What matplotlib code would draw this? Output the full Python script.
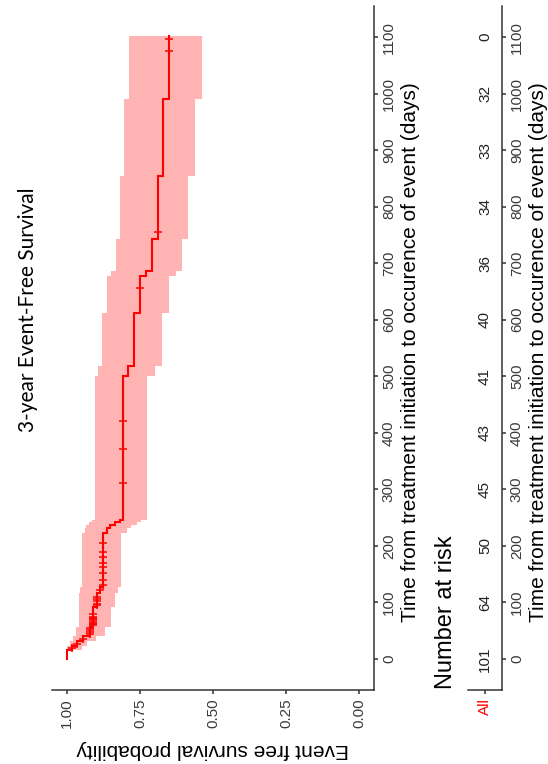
import numpy as np
import matplotlib
matplotlib.use("Agg")
import matplotlib.pyplot as plt

plt.rcParams['font.family'] = ['Liberation Sans', 'DejaVu Sans']

# Kaplan-Meier steps (time in days)
times = [0, 16, 22, 31, 40, 57, 92, 117, 128, 223, 232, 237, 242, 245,
         500, 518, 612, 677, 686, 742, 854, 990]
surv = [1.0, 0.984, 0.967, 0.944, 0.921, 0.910, 0.898, 0.887, 0.878, 0.864,
        0.853, 0.836, 0.818, 0.809, 0.790, 0.771, 0.750, 0.729, 0.709, 0.689,
        0.670, 0.650]
lower = [1.0, 0.95, 0.93, 0.90, 0.87, 0.85, 0.835, 0.825, 0.815, 0.795,
         0.78, 0.76, 0.745, 0.725, 0.699, 0.676, 0.650, 0.628, 0.607, 0.585,
         0.562, 0.539]
upper = [1.0, 1.0, 0.99, 0.98, 0.97, 0.96, 0.96, 0.955, 0.95, 0.94,
         0.935, 0.925, 0.915, 0.904, 0.893, 0.879, 0.864, 0.849, 0.832, 0.818,
         0.804, 0.787]
end_time = 1102
censor_times = [20, 27, 35, 44, 48, 51, 54, 60, 62, 64, 66, 68, 70, 72, 74,
                80, 95, 98, 102, 106, 110, 122, 131, 140, 152, 162, 170, 180,
                190, 205, 312, 372, 420, 657, 756, 1075, 1096]

risk_times = [0, 100, 200, 300, 400, 500, 600, 700, 800, 900, 1000, 1100]
at_risk = [101, 64, 50, 45, 43, 41, 40, 36, 34, 33, 32, 0]

prob_ticks = [1.0, 0.75, 0.5, 0.25, 0.0]
prob_labels = ['1.00', '0.75', '0.50', '0.25', '0.00']

W, H = 548, 764
fig = plt.figure(figsize=(W / 100, H / 100), dpi=100)

def box(x0, y0, x1, y1):
    # pixel box (from top-left) -> figure fraction rect
    return [x0 / W, 1 - y1 / H, (x1 - x0) / W, (y1 - y0) / H]

red = '#ff0000'
band = '#ffb3b3'
dark = '#333333'
xlab = 'Time from treatment initiation to occurence of event (days)'

# main plot: probability runs horizontally (reversed), time runs upward
ax = fig.add_axes(box(52.4, 6, 373.6, 690))
ax.set_xlim(1.05, -0.05)
ax.set_ylim(-55, 1155)

t_all = np.append(times, end_time)
ax.fill_betweenx(t_all, np.append(lower, lower[-1]), np.append(upper, upper[-1]),
                 step='post', color=band, lw=0)

ty = np.repeat(t_all, 2)[1:-1]
sx = np.repeat(surv, 2)
ax.plot(sx, ty, color=red, lw=1.5, solid_joinstyle='miter')

idx = np.searchsorted(times, censor_times, side='right') - 1
ax.plot(np.array(surv)[idx], censor_times, ls='none', marker='+', ms=6,
        mew=1.1, color=red)

for s in ['top', 'left']:
    ax.spines[s].set_visible(False)
for s in ['bottom', 'right']:
    ax.spines[s].set_color(dark)
    ax.spines[s].set_linewidth(1.1)
ax.yaxis.tick_right()
ax.set_xticks(prob_ticks)
ax.set_xticklabels(prob_labels, rotation=90, va='top', ha='center')
ax.set_yticks(risk_times)
ax.set_yticklabels([str(t) for t in risk_times], rotation=90, va='center', ha='left')
ax.tick_params(axis='both', direction='out', length=3, width=1.1, color=dark,
               labelcolor='#3a3a3a', labelsize=11)
ax.tick_params(axis='x', pad=3)
ax.tick_params(axis='y', pad=3)
ax.set_xlabel('Event free survival probability', rotation=180, fontsize=15,
              labelpad=9)
fig.text(410 / W, 1 - 352 / H, xlab, rotation=90, ha='center', va='center',
         fontsize=15)

# risk table
rax = fig.add_axes(box(468, 6, 502, 690))
rax.set_xlim(0.5, 1.5)
rax.set_ylim(-55, 1155)
for t, n in zip(risk_times, at_risk):
    rax.text(1, t, str(n), rotation=90, ha='center', va='center',
             fontsize=11, color='#222222')
for s in ['top', 'left']:
    rax.spines[s].set_visible(False)
for s in ['bottom', 'right']:
    rax.spines[s].set_color(dark)
    rax.spines[s].set_linewidth(1.1)
rax.yaxis.tick_right()
rax.set_xticks([1])
rax.set_xticklabels(['All'], rotation=90, va='top', ha='center', color=red)
rax.set_yticks(risk_times)
rax.set_yticklabels([str(t) for t in risk_times], rotation=90, va='center', ha='left')
rax.tick_params(axis='both', direction='out', length=3, width=1.1, color=dark,
                labelcolor='#3a3a3a', labelsize=11, pad=3)
rax.tick_params(axis='y', pad=2.7)
rax.get_xticklabels()[0].set_color(red)
fig.text(538 / W, 1 - 352 / H, xlab, rotation=90, ha='center', va='center',
         fontsize=15)

fig.text(446 / W, 1 - 689 / H, 'Number at risk', rotation=90, ha='center',
         va='bottom', fontsize=17)

fig.text(28 / W, 1 - 310 / H, '3-year Event-Free Survival', rotation=90,
         ha='center', va='center', fontsize=15, family=['Lato', 'DejaVu Sans'])

fig.savefig('out.png', dpi=100, facecolor='white')
